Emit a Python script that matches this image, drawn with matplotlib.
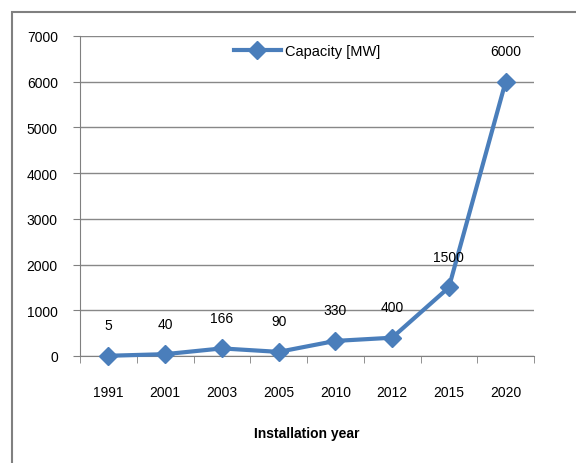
import matplotlib.pyplot as plt
from matplotlib.patches import Rectangle

# data
years = ['1991', '2001', '2003', '2005', '2010', '2012', '2015', '2020']
capacity = [5, 40, 166, 90, 330, 400, 1500, 6000]

plt.rcParams['font.family'] = ['Liberation Sans', 'DejaVu Sans']

fig = plt.figure(figsize=(5.76, 4.64), dpi=100)
ax = fig.add_axes([80/576, 1-357/464, (534-80)/576, (357-37)/464])

# outer frame
fig.patches.append(Rectangle((12/576, -0.05), 1.0, 1-13/464+0.05,
                             transform=fig.transFigure, fill=False,
                             edgecolor='#808080', lw=1.5))

x = list(range(len(years)))
ax.plot(x, capacity, color='#4a7ebb', lw=3, marker='D', markersize=9,
        label='Capacity [MW]', clip_on=False, zorder=3)

for xi, v in zip(x, capacity):
    ax.annotate(str(v), (xi, v), xytext=(0, 22), textcoords='offset points',
                ha='center', va='center', fontsize=10)

ax.set_xlim(-0.5, len(years) - 0.5)
ax.set_ylim(0, 7000)
ax.set_yticks(range(0, 7001, 1000))
ax.set_xticks(x)
ax.set_xticklabels(years)
ax.set_xticks([i - 0.5 for i in range(len(years) + 1)], minor=True)
ax.tick_params(axis='x', which='major', length=0, pad=21, labelsize=10)
ax.tick_params(axis='x', which='minor', length=5, color='#808080', direction='out')
ax.tick_params(axis='y', length=5, color='#808080', pad=11, labelsize=10)

ax.yaxis.grid(True, color='#888888', lw=1)
ax.set_axisbelow(True)
for s in ['top', 'right']:
    ax.spines[s].set_visible(False)
for s in ['left', 'bottom']:
    ax.spines[s].set_color('#808080')

ax.set_xlabel('Installation year', fontsize=10, fontweight='bold', labelpad=19)

ax.legend(loc='upper center', bbox_to_anchor=(0.5, 1.015), frameon=False,
          fontsize=10.5, handlelength=3.2, handletextpad=0.3)

fig.savefig('out.png', dpi=100)
